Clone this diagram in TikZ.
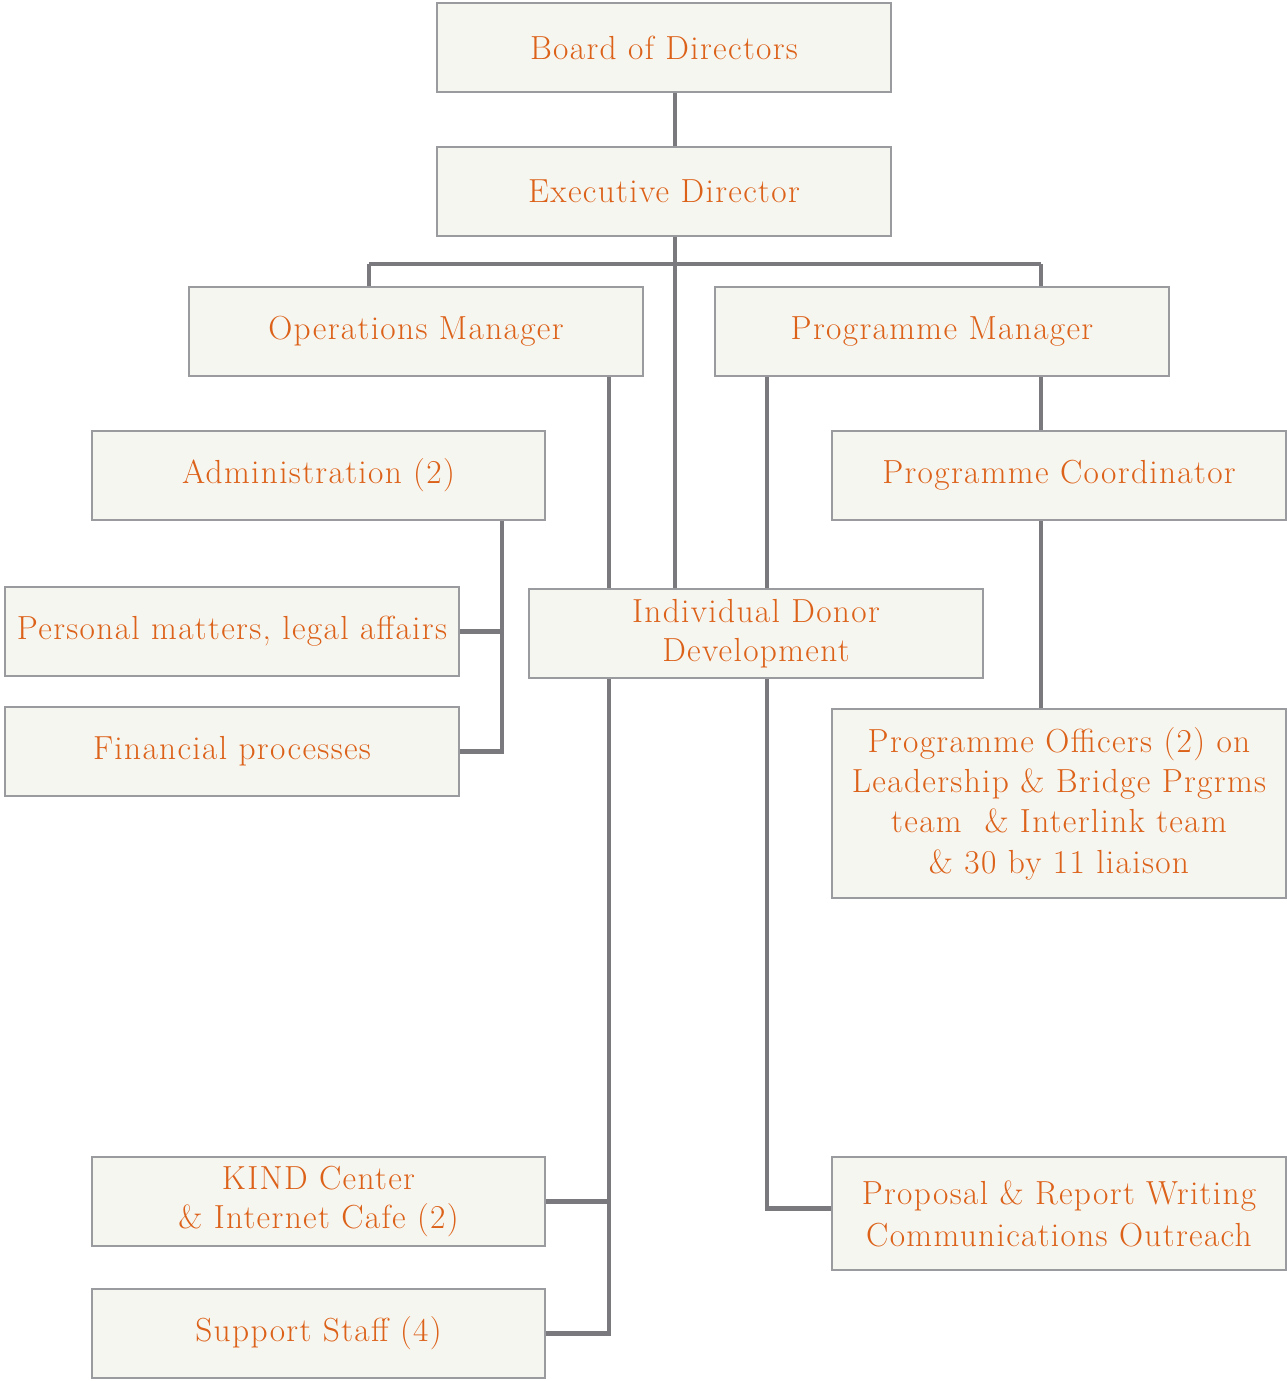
\documentclass[tikz,border=0pt]{standalone}
\usepackage{fontspec}
\setmainfont{Latin Modern Roman}[LetterSpace=4]
\usepackage{xcolor}
\usetikzlibrary{positioning,calc}
\definecolor{textorange}{HTML}{DC6119}
\definecolor{boxfill}{HTML}{F6F6F0}
\definecolor{boxedge}{HTML}{9A9B9F}
\definecolor{linkgray}{HTML}{7A7A7E}
\pgfdeclarelayer{background}
\pgfsetlayers{background,main}

\begin{document}
\begin{tikzpicture}[x=0.02cm, y=-0.02cm]
\tikzstyle{box}=[draw=boxedge, fill=boxfill, line width=1.1pt, minimum width=9.08cm, minimum height=1.78cm, align=center, text=textorange, font=\fontsize{19}{22}\selectfont, inner sep=0pt]
\tikzstyle{link}=[draw=linkgray, line width=2.5pt]
\useasboundingbox (0,0) rectangle (1286,1381);
% boxes
\node[box] (board) at (664,47.5) {Board of Directors};
\node[box] (exec) at (664,191.5) {Executive Director};
\node[box] (ops) at (416,331.5) {Operations Manager};
\node[box] (prog) at (942,331.5) {Programme Manager};
\node[box] (admin) at (318.5,475.5) {Administration (2)};
\node[box] (coord) at (1059,475.5) {Programme Coordinator};
\node[box] (personal) at (232,631.5) {Personal matters, legal affairs};
\node[box] (donor) at (756,633.5) {Individual Donor\\Development};
\node[box] (finance) at (232,751.5) {Financial processes};
\node[box, minimum height=3.78cm, font=\fontsize{19}{23}\selectfont] (officers) at (1059,803.5) {Programme Officers (2) on\\Leadership \& Bridge Prgrms\\team \ \& Interlink team\\\& 30 by 11 liaison};
\node[box] (kind) at (318.5,1201.5) {KIND Center\\\& Internet Cafe (2)};
\node[box, minimum height=2.26cm, font=\fontsize{19}{24}\selectfont] (proposal) at (1059,1213.5) {Proposal \& Report Writing\\Communications Outreach};
\node[box] (support) at (318.5,1333.5) {Support Staff (4)};
% connectors
\coordinate (spine) at (675,264);
\coordinate (opsdrop) at (369,264);
\coordinate (progdrop) at (1041,264);
\coordinate (opsx) at (609,0);
\coordinate (progx) at (767,0);
\coordinate (adminx) at (502,0);
\begin{pgfonlayer}{background}
\draw[link] (board.south -| spine) -- (exec.north -| spine);
\draw[link] (exec.south -| spine) -- (donor.north -| spine);
\draw[link] (opsdrop) -- (progdrop);
\draw[link] (opsdrop) -- (ops.north -| opsdrop);
\draw[link] (progdrop) -- (prog.north -| progdrop);
\draw[link] (prog.south -| progdrop) -- (coord.north -| progdrop);
\draw[link] (coord.south -| progdrop) -- (officers.north -| progdrop);
\draw[link] (ops.south -| opsx) |- (support.east);
\draw[link] (kind.east) -- (kind.east -| opsx);
\draw[link] (prog.south -| progx) |- ($(proposal.west)+(0,-5)$);
\draw[link] (admin.south -| adminx) |- (finance.east);
\draw[link] (personal.east) -- (personal.east -| adminx);
\end{pgfonlayer}
\end{tikzpicture}
\end{document}
